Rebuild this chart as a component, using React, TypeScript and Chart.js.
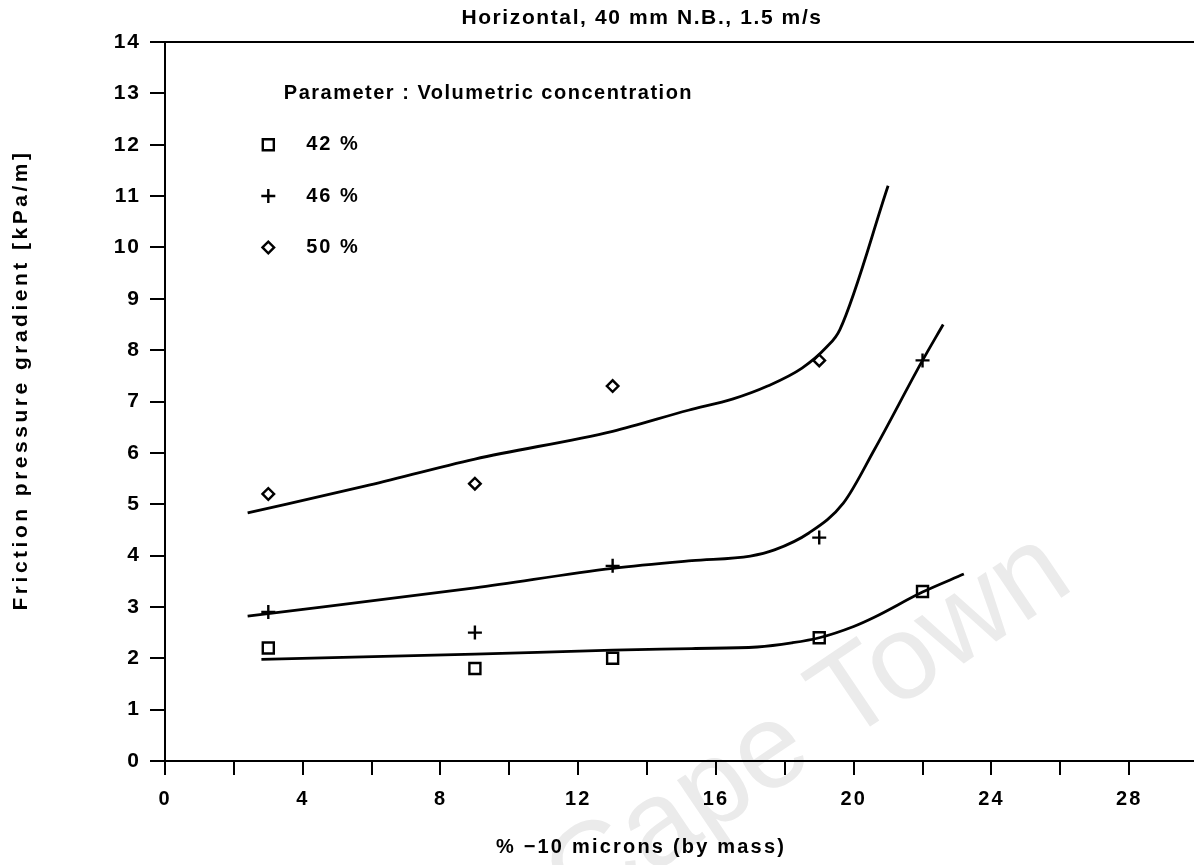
import React, { useEffect, useRef } from "react";
import { Chart, registerables } from "chart.js";

Chart.register(...registerables);

// ---- text ----
const chartTitle = "Horizontal, 40 mm N.B., 1.5 m/s";
const xAxisTitle = "% \u221210 microns (by mass)";
const yAxisTitle = "Friction pressure gradient [kPa/m]";
const legendHeading = "Parameter : Volumetric concentration";
const seriesLabels = ["42 %", "46 %", "50 %"];
const watermarkText = "University of Cape Town";

// ---- axis ranges ----
const xMin = 0;
const xMax = 30;
const xStep = 2;
const xLabelEvery = 4;
const xLastLabel = 28;
const yMin = 0;
const yMax = 14;
const yStep = 1;

// ---- measured points (% -10 microns vs friction gradient kPa/m) ----
const measured42X = [3, 9, 13, 19, 22];
const measured42Y = [2.2, 1.8, 2.0, 2.4, 3.3];
const measured46X = [3, 9, 13, 19, 22];
const measured46Y = [2.9, 2.5, 3.8, 4.35, 7.8];
const measured50X = [3, 9, 13, 19];
const measured50Y = [5.2, 5.4, 7.3, 7.8];

// ---- hand-fitted trend curves ----
const fit42X = [2.8, 9, 13, 15.3, 17.2, 18.2, 19, 20, 20.6, 22, 23.2];
const fit42Y = [1.98, 2.08, 2.16, 2.19, 2.22, 2.3, 2.4, 2.62, 2.8, 3.29, 3.64];
const fit46X = [2.4, 9, 13, 15.3, 17, 17.7, 18.7, 19.7, 20.6, 22, 22.6];
const fit46Y = [2.82, 3.37, 3.75, 3.9, 3.99, 4.11, 4.44, 5.02, 6.06, 7.8, 8.5];
const fit50X = [2.4, 5.8, 9, 13, 15.2, 16.5, 17.5, 18.5, 19.2, 19.6, 21];
const fit50Y = [4.83, 5.35, 5.88, 6.42, 6.83, 7.05, 7.3, 7.65, 8.05, 8.4, 11.2];

// ---- legend placement, in data units ----
const legendHeadingAt = [3.45, 13];
const legendMarkerX = 3;
const legendTextX = 4.1;
const legendRowsY = [12, 11, 10];

const CANVAS_W = 1210;
const CANVAS_H = 865;
const FONT = "'Liberation Sans', Arial, sans-serif";
const INK = "#000";

const toXY = (xs: number[], ys: number[]) => xs.map((x, i) => ({ x, y: ys[i] }));

const markerStyles = [
  { pointStyle: "rect", radius: 7.8 },
  { pointStyle: "cross", radius: 7 },
  { pointStyle: "rectRot", radius: 5.8 },
];

function drawMarker(ctx: CanvasRenderingContext2D, style: string, r: number, x: number, y: number) {
  ctx.beginPath();
  if (style === "rect") {
    const s = r * Math.SQRT1_2;
    ctx.rect(x - s, y - s, 2 * s, 2 * s);
  } else if (style === "cross") {
    ctx.moveTo(x - r, y);
    ctx.lineTo(x + r, y);
    ctx.moveTo(x, y - r);
    ctx.lineTo(x, y + r);
  } else {
    ctx.moveTo(x - r, y);
    ctx.lineTo(x, y - r);
    ctx.lineTo(x + r, y);
    ctx.lineTo(x, y + r);
    ctx.closePath();
  }
  ctx.stroke();
}

const textPlugin = {
  id: "plotText",
  beforeUpdate(chart: any) {
    chart.ctx.letterSpacing = "2px";
  },
  beforeDraw(chart: any) {
    const ctx: CanvasRenderingContext2D = chart.ctx;
    ctx.save();
    ctx.fillStyle = "#fff";
    ctx.fillRect(0, 0, chart.width, chart.height);
    // faint diagonal watermark
    ctx.translate(1058, 560);
    ctx.rotate((-34 * Math.PI) / 180);
    ctx.font = `120px ${FONT}`;
    (ctx as any).letterSpacing = "0px";
    ctx.fillStyle = "#ebebeb";
    ctx.textAlign = "right";
    ctx.textBaseline = "middle";
    ctx.fillText(watermarkText, 0, 0);
    ctx.restore();
    (ctx as any).letterSpacing = "2px";
  },
  afterDraw(chart: any) {
    const ctx: CanvasRenderingContext2D = chart.ctx;
    const { left, right, top, bottom } = chart.chartArea;
    const xs = chart.scales.x;
    const ys = chart.scales.y;
    ctx.save();
    ctx.strokeStyle = INK;
    ctx.fillStyle = INK;
    ctx.lineWidth = 2;
    // top and right frame
    ctx.beginPath();
    ctx.moveTo(left, top);
    ctx.lineTo(right, top);
    ctx.lineTo(right, bottom);
    ctx.stroke();

    ctx.textBaseline = "middle";
    // title
    (ctx as any).letterSpacing = "1.6px";
    ctx.font = `bold 21px ${FONT}`;
    ctx.textAlign = "center";
    ctx.fillText(chartTitle, 642, 18);

    // x axis title
    (ctx as any).letterSpacing = "2.2px";
    ctx.font = `bold 20px ${FONT}`;
    ctx.fillText(xAxisTitle, 641, 847);

    // y axis title
    ctx.save();
    ctx.translate(21, 380);
    ctx.rotate(-Math.PI / 2);
    (ctx as any).letterSpacing = "3.5px";
    ctx.font = `bold 21px ${FONT}`;
    ctx.fillText(yAxisTitle, 0, 0);
    ctx.restore();

    // legend
    ctx.textAlign = "left";
    (ctx as any).letterSpacing = "1.5px";
    ctx.font = `bold 20px ${FONT}`;
    ctx.fillText(legendHeading, xs.getPixelForValue(legendHeadingAt[0]), ys.getPixelForValue(legendHeadingAt[1]));
    (ctx as any).letterSpacing = "2px";
    ctx.lineWidth = 2.4;
    seriesLabels.forEach((label, i) => {
      const py = ys.getPixelForValue(legendRowsY[i]);
      drawMarker(ctx, markerStyles[i].pointStyle, markerStyles[i].radius, xs.getPixelForValue(legendMarkerX), py);
      ctx.fillText(label, xs.getPixelForValue(legendTextX), py);
    });
    ctx.restore();
  },
};

const fitLine = (xs: number[], ys: number[]) => ({
  type: "line" as const,
  data: toXY(xs, ys),
  borderColor: INK,
  borderWidth: 2.8,
  pointRadius: 0,
  fill: false,
  cubicInterpolationMode: "monotone" as const,
});

const markers = (xs: number[], ys: number[], i: number) => ({
  type: "scatter" as const,
  data: toXY(xs, ys),
  showLine: false,
  pointStyle: markerStyles[i].pointStyle,
  pointRadius: markerStyles[i].radius,
  borderColor: INK,
  backgroundColor: "rgba(0,0,0,0)",
  pointBorderWidth: 2.4,
  borderWidth: 2.4,
});

export default function App() {
  const canvasRef = useRef<HTMLCanvasElement>(null);

  useEffect(() => {
    const canvas = canvasRef.current;
    if (!canvas) return;
    const chart = new Chart(canvas, {
      type: "scatter",
      data: {
        datasets: [
          fitLine(fit42X, fit42Y),
          fitLine(fit46X, fit46Y),
          fitLine(fit50X, fit50Y),
          markers(measured42X, measured42Y, 0),
          markers(measured46X, measured46Y, 1),
          markers(measured50X, measured50Y, 2),
        ] as any,
      },
      options: {
        animation: false,
        responsive: false,
        devicePixelRatio: 1,
        layout: { padding: { left: 0, top: 42, right: CANVAS_W - 1198, bottom: 0 } },
        plugins: { legend: { display: false }, title: { display: false }, tooltip: { enabled: false } },
        events: [],
        scales: {
          x: {
            type: "linear",
            min: xMin,
            max: xMax,
            border: { display: true, color: INK, width: 2 },
            grid: { drawOnChartArea: false, drawTicks: true, tickLength: 14, color: INK, lineWidth: 2 },
            ticks: {
              stepSize: xStep,
              autoSkip: false,
              maxRotation: 0,
              padding: 12,
              color: INK,
              font: { family: FONT, size: 20, weight: "bold" },
              callback: (v: any) => (v % xLabelEvery === 0 && v <= xLastLabel ? String(v) : ""),
            },
            afterFit: (scale: any) => {
              scale.height = CANVAS_H - 761;
            },
          },
          y: {
            type: "linear",
            min: yMin,
            max: yMax,
            border: { display: true, color: INK, width: 2 },
            grid: { drawOnChartArea: false, drawTicks: true, tickLength: 15, color: INK, lineWidth: 2 },
            ticks: {
              stepSize: yStep,
              autoSkip: false,
              padding: 9,
              color: INK,
              font: { family: FONT, size: 21, weight: "bold" },
            },
            afterFit: (scale: any) => {
              scale.width = 165;
            },
          },
        },
      } as any,
      plugins: [textPlugin],
    });
    return () => chart.destroy();
  }, []);

  return (
    <div
      style={{
        position: "fixed",
        left: 0,
        top: 0,
        width: 1194,
        height: 865,
        overflow: "hidden",
        background: "#fff",
      }}
    >
      <canvas
        ref={canvasRef}
        width={CANVAS_W}
        height={CANVAS_H}
        style={{ display: "block", width: CANVAS_W, height: CANVAS_H }}
      />
    </div>
  );
}
